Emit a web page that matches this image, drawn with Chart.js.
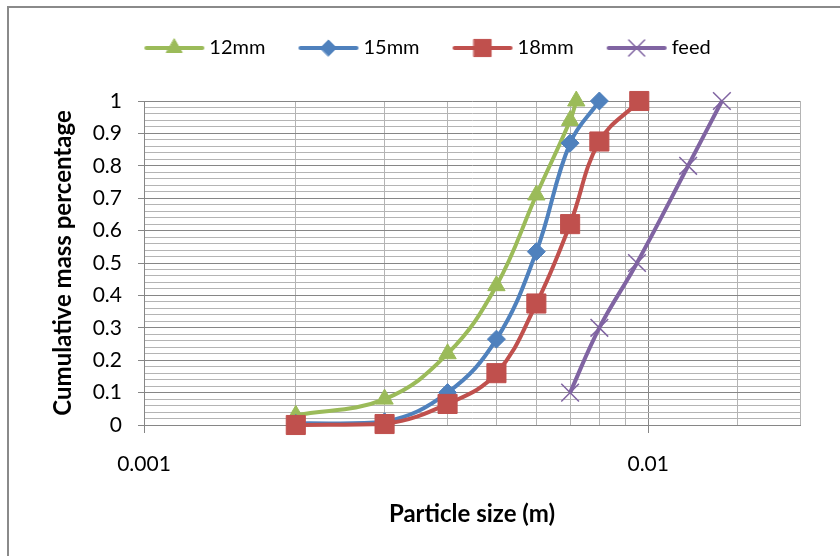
<!DOCTYPE html>
<html>
<head>
<meta charset="utf-8">
<script src="https://cdn.jsdelivr.net/npm/chart.js@4"></script>
<style>
  html, body { margin: 0; padding: 0; background: #fff; }
  #wrap { position: relative; width: 840px; height: 556px; overflow: hidden; }
  #frame { position: absolute; left: 7px; top: 6px; width: 840px; height: 560px;
           border-left: 2px solid #8a8a8a; border-top: 2px solid #8a8a8a; }
  canvas { position: absolute; left: 0; top: 0; }
</style>
</head>
<body>
<div id="wrap">
  <div id="frame"></div>
  <canvas id="chart" width="840" height="556"></canvas>
</div>
<script>
// particle size (m) vs cumulative mass fraction
const sizes12 = [0.002, 0.003, 0.004, 0.005, 0.006, 0.007, 0.0072];
const mass12 = [0.03, 0.08, 0.22, 0.43, 0.71, 0.94, 1.0];

const sizes15 = [0.002, 0.003, 0.004, 0.005, 0.006, 0.007, 0.008];
const mass15 = [0.005, 0.01, 0.10, 0.265, 0.535, 0.87, 1.0];

const sizes18 = [0.002, 0.003, 0.004, 0.005, 0.006, 0.007, 0.008, 0.0096];
const mass18 = [0, 0.003, 0.065, 0.16, 0.375, 0.62, 0.875, 1.0];

const sizesFeed = [0.007, 0.008, 0.0095, 0.012, 0.014];
const massFeed = [0.10, 0.30, 0.50, 0.80, 1.0];

const seriesNames = ['12mm', '15mm', '18mm', 'feed'];
const xTickLabels = ['0.001', '0.01'];
const yTickLabels = ['0', '0.1', '0.2', '0.3', '0.4', '0.5', '0.6', '0.7', '0.8', '0.9', '1'];

const FONT = 'Lato, "Liberation Sans", sans-serif';
const MAJOR = '#868686';
const MINOR = '#b4b4b4';
const PAD_LEFT = 60;
const TITLE_SIZE = 24;

const styles = [
  { color: '#9bbb59', point: 'triangle', radius: 10, bw: 1 },
  { color: '#4f81bd', point: 'rectRot', radius: 9, bw: 1 },
  { color: '#c0504d', point: 'rect', radius: 13.5, bw: 1 },
  { color: '#8064a2', point: 'crossRot', radius: 12.5, bw: 1.5 }
];

function toPoints(xs, ys) {
  return xs.map((x, i) => ({ x: x, y: ys[i] }));
}

const seriesData = [
  toPoints(sizes12, mass12),
  toPoints(sizes15, mass15),
  toPoints(sizes18, mass18),
  toPoints(sizesFeed, massFeed)
];

const isDecade = v => Math.abs(Math.log10(v) - Math.round(Math.log10(v))) < 1e-6;
const isTenth = v => Math.abs(v * 10 - Math.round(v * 10)) < 1e-6;

// legend icons: short line with the marker on it (a bit wider than the legend box
// so the label sits close to the line end, like the original)
const legendIcons = styles.map(s => {
  const c = document.createElement('canvas');
  c.width = 62; c.height = 26;
  const g = c.getContext('2d');
  g.strokeStyle = s.color;
  g.lineWidth = 4;
  g.lineCap = 'round';
  g.beginPath(); g.moveTo(3, 13); g.lineTo(59, 13); g.stroke();
  g.fillStyle = s.color;
  g.lineWidth = s.bw;
  Chart.helpers.drawPoint(g, { pointStyle: s.point, radius: s.radius * 0.9, rotation: 0, borderWidth: s.bw }, 31, 13);
  return c;
});

const datasets = seriesNames.map((name, i) => ({
  label: name,
  data: seriesData[i],
  borderColor: styles[i].color,
  backgroundColor: styles[i].color,
  borderWidth: 4,
  tension: 0.4,
  pointStyle: styles[i].point,
  pointRadius: styles[i].radius,
  pointHoverRadius: styles[i].radius,
  pointBorderWidth: styles[i].bw,
  pointBackgroundColor: styles[i].color,
  pointBorderColor: styles[i].color,
  clip: false,
  order: seriesNames.length - i
}));

new Chart(document.getElementById('chart'), {
  type: 'line',
  data: { datasets },
  options: {
    responsive: false,
    animation: false,
    devicePixelRatio: 1,
    layout: { padding: { left: PAD_LEFT, right: 40, top: 0, bottom: 0 } },
    plugins: {
      tooltip: { enabled: false },
      legend: {
        position: 'top',
        labels: {
          usePointStyle: true,
          pointStyleWidth: 50,
          padding: 38,
          color: '#000',
          font: { family: FONT, size: 20 },
          sort: (a, b) => a.datasetIndex - b.datasetIndex,
          generateLabels: chart => {
            const items = Chart.defaults.plugins.legend.labels.generateLabels(chart);
            items.forEach(it => { it.pointStyle = legendIcons[it.datasetIndex]; });
            return items;
          }
        }
      },
      // empty block used as spacing between legend and plot
      title: {
        display: true, text: '', weight: 500, padding: 0,
        font: { size: 33, lineHeight: 1 }
      }
    },
    scales: {
      x: {
        type: 'logarithmic',
        min: 0.001,
        max: 0.02,
        afterFit: s => { s.height = 131; },
        border: { color: MAJOR, width: 1 },
        grid: {
          color: c => (c.tick && isDecade(c.tick.value)) ? MAJOR : MINOR,
          tickLength: 8,
          tickColor: c => (c.tick && isDecade(c.tick.value)) ? MAJOR : 'rgba(0,0,0,0)'
        },
        ticks: {
          autoSkip: false,
          maxRotation: 0,
          padding: 19,
          color: '#000',
          font: { family: FONT, size: 21 },
          callback: v => isDecade(v) ? (xTickLabels[Math.round(Math.log10(v)) + 3] || '') : ''
        },
        title: {
          display: true,
          text: 'Particle size (m)',
          color: '#000',
          font: { family: FONT, size: TITLE_SIZE, weight: 'bold', lineHeight: 1.2 },
          padding: { top: 0, bottom: 556 - 514 - TITLE_SIZE * 0.6 }
        }
      },
      y: {
        min: 0,
        max: 1,
        afterFit: s => { s.width = 144 - PAD_LEFT; },
        border: { color: MAJOR, width: 1 },
        grid: {
          color: c => (c.tick && isTenth(c.tick.value)) ? MAJOR : MINOR,
          tickLength: 6,
          tickColor: c => (c.tick && isTenth(c.tick.value)) ? MAJOR : 'rgba(0,0,0,0)'
        },
        ticks: {
          stepSize: 0.02,
          autoSkip: false,
          padding: 16,
          color: '#000',
          font: { family: FONT, size: 21 },
          callback: v => isTenth(v) ? yTickLabels[Math.round(v * 10)] : ''
        },
        title: {
          display: true,
          text: 'Cumulative mass percentage',
          color: '#000',
          font: { family: FONT, size: TITLE_SIZE, weight: 'bold', lineHeight: 1.2 },
          padding: { top: 63 - TITLE_SIZE * 0.6 - PAD_LEFT, bottom: 0 }
        }
      }
    }
  }
});
</script>
</body>
</html>
